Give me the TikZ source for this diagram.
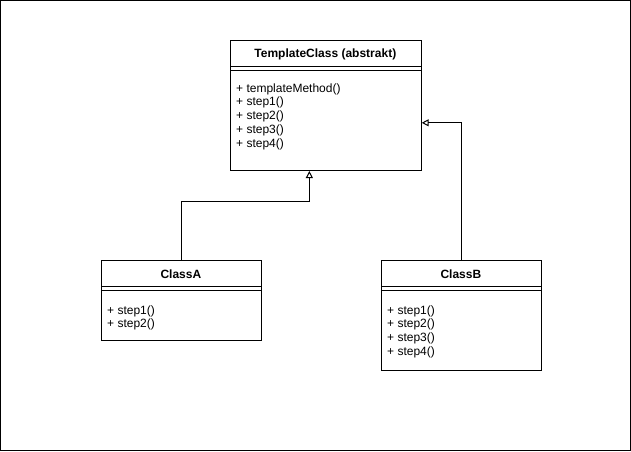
\documentclass[tikz,border=0pt]{standalone}
\usepackage{fontspec}
\setmainfont{Liberation Sans}
\usetikzlibrary{arrows.meta}
\begin{document}
\begin{tikzpicture}[x=1pt,y=-1pt,
  umlbox/.style={draw,line width=1pt,anchor=north west,inner sep=0pt,minimum width=#1},
  headtxt/.style={font=\fontsize{12}{14}\selectfont\bfseries,inner sep=0pt,anchor=base},
  methtxt/.style={font=\fontsize{12}{13.8}\selectfont,inner sep=0pt,anchor=base west,align=left},
  inh/.style={draw,line width=1pt,-{Triangle[open,length=7pt,width=7pt,line width=1pt]}},
  sepline/.style={line width=1pt}]
\useasboundingbox (0,0) rectangle (631,451);
\draw[line width=1.1pt] (0.6,0.6) rectangle (630.4,450.4);

% TemplateClass
\node[umlbox=190.7pt,minimum height=130pt] (T) at (230,40) {};
\draw[sepline] (230,66) -- (420.7,66);
\draw[sepline] (230,70) -- (420.7,70);
\node[headtxt] (Th) at (325.35,57.5) {TemplateClass (abstrakt)};
\node[methtxt] (Tm) at (236,147.2) {+ templateMethod()\\+ step1()\\+ step2()\\+ step3()\\+ step4()};

% ClassA
\node[umlbox=159.7pt,minimum height=80pt] (A) at (101,260) {};
\draw[sepline] (101,286) -- (260.7,286);
\draw[sepline] (101,290) -- (260.7,290);
\node[headtxt] (Ah) at (180.85,278) {ClassA};
\node[methtxt] (Am) at (107,327.8) {+ step1()\\+ step2()};

% ClassB
\node[umlbox=159.7pt,minimum height=110pt] (B) at (381,260) {};
\draw[sepline] (381,286) -- (540.7,286);
\draw[sepline] (381,290) -- (540.7,290);
\node[headtxt] (Bh) at (460.85,278) {ClassB};
\node[methtxt] (Bm) at (387,355.4) {+ step1()\\+ step2()\\+ step3()\\+ step4()};

% connectors
\coordinate (tA) at ([xshift=-16.5pt]T.south);
\coordinate (tB) at ([yshift=-17.3pt]T.east);
\draw[inh] (A.north) |- ([yshift=-30.7pt]tA) -- (tA);
\draw[inh] (B.north) |- (tB);
\end{tikzpicture}
\end{document}
